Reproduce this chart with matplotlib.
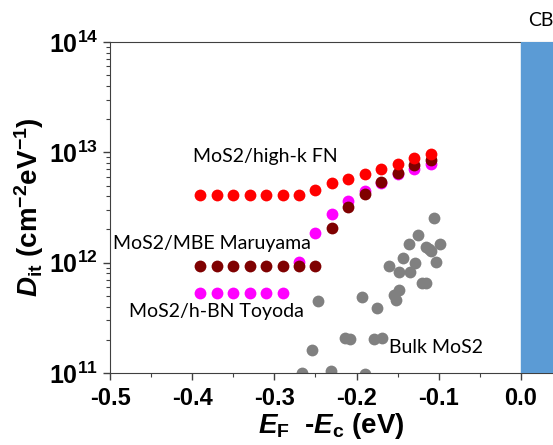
import matplotlib
matplotlib.use('Agg')
import matplotlib.pyplot as plt
from matplotlib.ticker import MultipleLocator, LogLocator, NullFormatter
import numpy as np

plt.rcParams['font.family'] = 'Liberation Sans'
plt.rcParams['mathtext.fontset'] = 'custom'
plt.rcParams['mathtext.rm'] = 'Liberation Sans:bold'
plt.rcParams['mathtext.it'] = 'Liberation Sans:bold:italic'
plt.rcParams['mathtext.bf'] = 'Liberation Sans:bold'
plt.rcParams['axes.unicode_minus'] = False

# MoS2/high-k FN
highk_x = [-0.39, -0.37, -0.35, -0.33, -0.31, -0.29, -0.27, -0.25, -0.23,
           -0.21, -0.19, -0.17, -0.15, -0.13, -0.11]
highk_y = [4.1e12, 4.1e12, 4.1e12, 4.1e12, 4.1e12, 4.1e12, 4.1e12, 4.6e12, 5.3e12,
           5.7e12, 6.3e12, 7.0e12, 7.8e12, 8.8e12, 9.7e12]

# MoS2/MBE Maruyama
mbe_x = [-0.39, -0.37, -0.35, -0.33, -0.31, -0.29, -0.27, -0.25, -0.23,
         -0.21, -0.19, -0.17, -0.15, -0.13, -0.11]
mbe_y = [9.25e11, 9.25e11, 9.25e11, 9.25e11, 9.25e11, 9.25e11, 9.25e11, 9.25e11, 2.07e12,
         3.16e12, 4.23e12, 5.4e12, 6.5e12, 7.6e12, 8.6e12]

# MoS2/h-BN Toyoda
hbn_x = [-0.39, -0.37, -0.35, -0.33, -0.31, -0.29, -0.27, -0.25, -0.23,
         -0.21, -0.19, -0.17, -0.15, -0.13, -0.11]
hbn_y = [5.3e11, 5.3e11, 5.3e11, 5.3e11, 5.3e11, 5.3e11, 1.01e12, 1.87e12, 2.78e12,
         3.6e12, 4.46e12, 5.3e12, 6.4e12, 7.1e12, 7.9e12]

# Bulk MoS2
bulk_x = [-0.106, -0.125, -0.136, -0.116, -0.112, -0.109, -0.099, -0.143, -0.129,
          -0.103, -0.161, -0.149, -0.135, -0.121, -0.115, -0.148, -0.155, -0.152,
          -0.175, -0.247, -0.194, -0.214, -0.208, -0.179, -0.169, -0.254, -0.266,
          -0.231, -0.190]
bulk_y = [2.54e12, 1.79e12, 1.46e12, 1.38e12, 1.32e12, 1.27e12, 1.49e12, 1.09e12, 9.9e11,
          1.01e12, 9.3e11, 8.2e11, 8.2e11, 6.5e11, 6.6e11, 5.7e11, 5.05e11, 4.6e11,
          3.9e11, 4.5e11, 4.9e11, 2.09e11, 2.02e11, 2.02e11, 2.09e11, 1.63e11, 1.0e11,
          1.03e11, 0.97e11]

fig = plt.figure(figsize=(5.53, 4.45), dpi=100)
ax = fig.add_axes([0.199, 0.162, 0.801, 0.7436])

ms = 8.5
ax.plot(bulk_x, bulk_y, 'o', color='#808080', markersize=ms, markeredgewidth=0)
ax.plot(hbn_x, hbn_y, 'o', color='#FF00FF', markersize=ms, markeredgewidth=0)
ax.plot(mbe_x, mbe_y, 'o', color='#7F0000', markersize=ms, markeredgewidth=0)
ax.plot(highk_x, highk_y, 'o', color='#FF0000', markersize=ms, markeredgewidth=0)

# conduction band
ax.axvspan(0.0, 0.05, color='#5B9BD5', zorder=3)

ax.set_yscale('log')
ax.set_xlim(-0.5, 0.039)
ax.set_ylim(1e11, 1e14)

ax.set_xticks([-0.5, -0.4, -0.3, -0.2, -0.1, 0.0])
ax.set_xticklabels(['-0.5', '-0.4', '-0.3', '-0.2', '-0.1', '0.0'], fontsize=17, fontweight='bold')
ax.xaxis.set_minor_locator(MultipleLocator(0.05))
ax.set_yticks([1e11, 1e12, 1e13, 1e14])
ax.set_yticklabels([r'$\mathrm{10^{11}}$', r'$\mathrm{10^{12}}$', r'$\mathrm{10^{13}}$',
                    r'$\mathrm{10^{14}}$'], fontsize=18)
ax.yaxis.set_minor_locator(LogLocator(base=10, subs=np.arange(2, 10)))
ax.yaxis.set_minor_formatter(NullFormatter())

ax.tick_params(which='major', direction='out', length=5, width=1, color='#404040')
ax.tick_params(axis='x', which='major', pad=5)
ax.tick_params(which='minor', direction='out', length=3, width=0.8, color='#404040')
for s in ['left', 'bottom', 'top']:
    ax.spines[s].set_color('#404040')
ax.spines['right'].set_visible(False)

ax.set_xlabel(r'$\mathit{E}_{\mathrm{F}}$  -$\mathit{E}_{\mathrm{c}}$ (eV)', fontsize=20,
              fontweight='bold', labelpad=1)
ax.set_ylabel(r'$\mathit{D}_{\mathrm{it}}$ (cm$^{\mathrm{-2}}$eV$^{\mathrm{-1}}$)', fontsize=20,
              fontweight='bold', labelpad=2)

tfont = dict(fontsize=14, family='Lato', va='center', ha='left')
ax.text(-0.399, 9.2e12, 'MoS2/high-k FN', **tfont)
ax.text(-0.496, 1.5e12, 'MoS2/MBE Maruyama', **tfont)
ax.text(-0.477, 3.6e11, 'MoS2/h-BN Toyoda', **tfont)
ax.text(-0.161, 1.71e11, 'Bulk MoS2', **tfont)
ax.text(0.0085, 1.57e14, 'CB', clip_on=False, **tfont)

fig.savefig('out.png', dpi=100)
